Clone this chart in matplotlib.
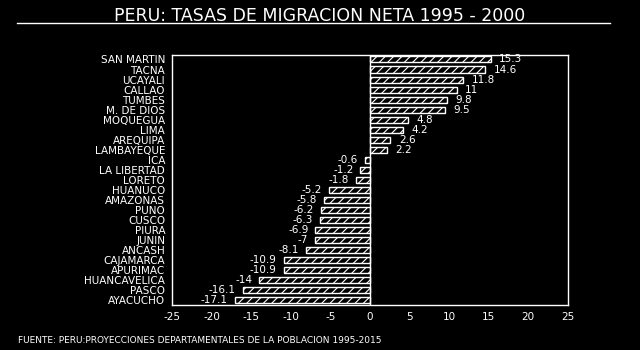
import matplotlib
matplotlib.use("Agg")
import matplotlib.pyplot as plt

# Data
departments = ["SAN MARTIN", "TACNA", "UCAYALI", "CALLAO", "TUMBES", "M. DE DIOS",
               "MOQUEGUA", "LIMA", "AREQUIPA", "LAMBAYEQUE", "ICA", "LA LIBERTAD",
               "LORETO", "HUANUCO", "AMAZONAS", "PUNO", "CUSCO", "PIURA", "JUNIN",
               "ANCASH", "CAJAMARCA", "APURIMAC", "HUANCAVELICA", "PASCO", "AYACUCHO"]
rates = [15.3, 14.6, 11.8, 11, 9.8, 9.5, 4.8, 4.2, 2.6, 2.2, -0.6, -1.2, -1.8,
         -5.2, -5.8, -6.2, -6.3, -6.9, -7, -8.1, -10.9, -10.9, -14, -16.1, -17.1]
rate_labels = ["15.3", "14.6", "11.8", "11", "9.8", "9.5", "4.8", "4.2", "2.6", "2.2",
               "-0.6", "-1.2", "-1.8", "-5.2", "-5.8", "-6.2", "-6.3", "-6.9", "-7",
               "-8.1", "-10.9", "-10.9", "-14", "-16.1", "-17.1"]
xticks = [-25, -20, -15, -10, -5, 0, 5, 10, 15, 20, 25]

plt.rcParams['hatch.color'] = 'white'
plt.rcParams['hatch.linewidth'] = 0.8

fig = plt.figure(figsize=(6.4, 3.5), dpi=100, facecolor='black')
ax = fig.add_axes([0.269, 0.129, 0.618, 0.714], facecolor='black')

pos = list(range(len(departments)))
ax.barh(pos, rates, height=0.6, color='black', edgecolor='white',
        linewidth=1, hatch='////')
ax.axvline(0, color='white', linewidth=1)

for y, v, lab in zip(pos, rates, rate_labels):
    if v >= 0:
        ax.annotate(lab, (v, y), xytext=(6, 0), textcoords='offset points',
                    ha='left', va='center', color='white', fontsize=7.5)
    else:
        ax.annotate(lab, (v, y), xytext=(-5, 0), textcoords='offset points',
                    ha='right', va='center', color='white', fontsize=7.5)

ax.set_xlim(-25, 25)
ax.set_ylim(24.45, -0.45)
ax.set_xticks(xticks)
ax.set_xticklabels([str(t) for t in xticks], color='white', fontsize=7.5)
ax.set_yticks(pos)
ax.set_yticklabels(departments, color='white', fontsize=7.5)
ax.tick_params(length=0, pad=5)
for s in ax.spines.values():
    s.set_color('white')
    s.set_linewidth(1)

fig.text(0.5, 0.953, "PERU: TASAS DE MIGRACION NETA 1995 - 2000", ha='center',
         va='center', color='white', fontsize=12.5)
fig.add_artist(plt.Line2D([0.027, 0.953], [0.933, 0.933], color='white', linewidth=1))
fig.text(0.028, 0.026, "FUENTE: PERU:PROYECCIONES DEPARTAMENTALES DE LA POBLACION 1995-2015",
         ha='left', va='center', color='white', fontsize=6.5)

fig.savefig("out.png", dpi=100, facecolor='black')
